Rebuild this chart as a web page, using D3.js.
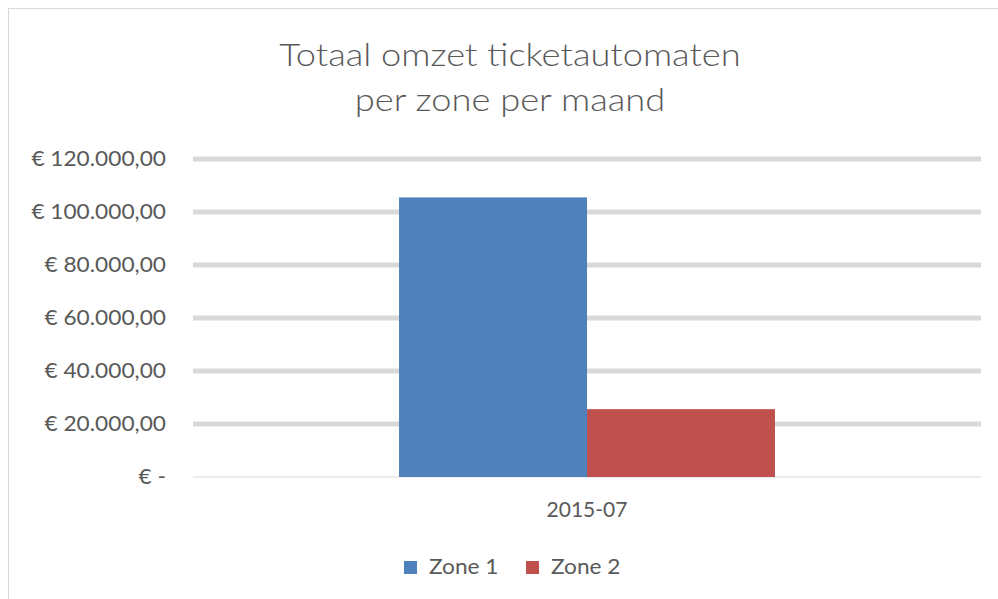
<!DOCTYPE html>
<html>
<head>
<meta charset="utf-8">
<script src="https://cdn.jsdelivr.net/npm/d3@7"></script>
<style>
  body { margin: 0; background: #fff; }
  text { font-family: Lato, "Open Sans", sans-serif; fill: #595959; }
</style>
</head>
<body>
<div id="chart"></div>
<script>
// data
const categories = ["2015-07"];
const zones = ["Zone 1", "Zone 2"];
const zone1 = [105500];
const zone2 = [25600];
const yTicks = [0, 20000, 40000, 60000, 80000, 100000, 120000];
const colors = ["#4f81bd", "#c0504d"];

const width = 998, height = 599;
const svg = d3.select("#chart").append("svg")
  .attr("width", width)
  .attr("height", height);

// chart frame
svg.append("rect")
  .attr("x", 8.5).attr("y", 8.5)
  .attr("width", 1200).attr("height", 1200)
  .attr("fill", "#fff")
  .attr("stroke", "#d9d9d9");

// title, stretched a bit to mimic the wide look of the original font
const title = svg.append("text")
  .attr("transform", "translate(510,0) scale(1.17,1)")
  .attr("text-anchor", "middle")
  .style("font-size", "31px")
  .style("font-weight", 300);
title.append("tspan").attr("x", 0).attr("y", 66).text("Totaal omzet ticketautomaten");
title.append("tspan").attr("x", 0).attr("y", 111).text("per zone per maand");

const x0 = d3.scaleBand().domain(categories).range([193, 981]);
const x1 = d3.scaleBand().domain(zones).range([0, x0.bandwidth()])
  .paddingInner(0).paddingOuter(1.096);
const y = d3.scaleLinear().domain([0, 120000]).range([477, 159]);

const fmt = (v) => v === 0 ? "€ -" :
  "€ " + d3.format(",.2f")(v).replace(/,/g, "#").replace(".", ",").replace(/#/g, ".");

// gridlines
svg.append("g")
  .selectAll("line")
  .data(yTicks)
  .join("line")
  .attr("x1", 193).attr("x2", 981)
  .attr("y1", (d) => y(d)).attr("y2", (d) => y(d))
  .attr("stroke", "#d9d9d9")
  .attr("stroke-width", (d) => d === 0 ? 1 : 5);

// y labels
svg.append("g")
  .selectAll("text")
  .data(yTicks)
  .join("text")
  .attr("transform", (d) => `translate(166,${y(d)}) scale(1.08,1)`)
  .attr("dy", "0.35em")
  .attr("text-anchor", "end")
  .style("font-size", "21px")
  .text(fmt);

// bars
const rows = categories.map((c, i) => ({ cat: c, values: [zone1[i], zone2[i]] }));
svg.append("g")
  .selectAll("g")
  .data(rows)
  .join("g")
  .attr("transform", (d) => `translate(${x0(d.cat)},0)`)
  .selectAll("rect")
  .data((d) => d.values.map((v, j) => ({ zone: zones[j], value: v, color: colors[j] })))
  .join("rect")
  .attr("x", (d) => x1(d.zone))
  .attr("width", x1.bandwidth())
  .attr("y", (d) => y(d.value))
  .attr("height", (d) => y(0) - y(d.value))
  .attr("fill", (d) => d.color);

// x labels
svg.append("g")
  .selectAll("text")
  .data(categories)
  .join("text")
  .attr("x", (d) => x0(d) + x0.bandwidth() / 2)
  .attr("y", 517)
  .attr("text-anchor", "middle")
  .style("font-size", "21px")
  .text((d) => d);

// legend
const legendX = [404, 526];
const legend = svg.append("g")
  .selectAll("g")
  .data(zones)
  .join("g")
  .attr("transform", (d, i) => `translate(${legendX[i]},0)`);
legend.append("rect")
  .attr("y", 561).attr("width", 13).attr("height", 13)
  .attr("fill", (d, i) => colors[i]);
legend.append("text")
  .attr("transform", "translate(25,574) scale(1.08,1)")
  .style("font-size", "21px")
  .text((d) => d);
</script>
</body>
</html>
